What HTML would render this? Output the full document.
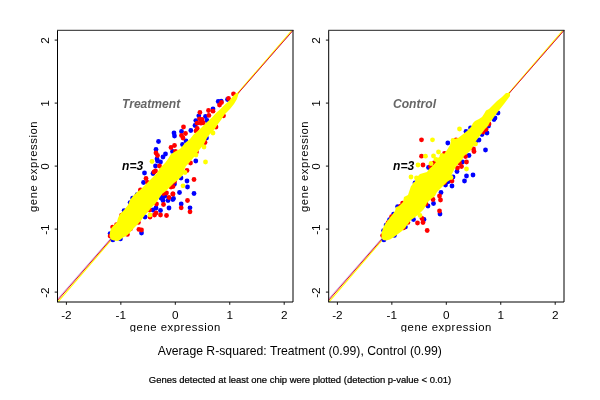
<!DOCTYPE html>
<html><head><meta charset="utf-8"><style>
html,body{margin:0;padding:0;background:#fff;width:600px;height:400px;overflow:hidden}
svg{display:block;will-change:transform}
text{font-family:"Liberation Sans",sans-serif}
.t{font-size:11.0px;fill:#000}
.l{font-size:11.3px;fill:#000;letter-spacing:0.55px}
.bi{font-size:12.1px;font-weight:bold;font-style:italic}
.m{font-size:12.2px;fill:#000;letter-spacing:0.01px}
.s{font-size:8.6px;fill:#000;letter-spacing:0px;stroke:#000;stroke-width:0.2px}
</style></head><body>
<svg width="600" height="400" viewBox="0 0 600 400">
<rect width="600" height="400" fill="#fff"/>
<line x1="57.50" y1="299.00" x2="292.00" y2="31.70" stroke="#a070e0" stroke-width="1.0" stroke-opacity="0.55"/><line x1="58.20" y1="301.60" x2="291.70" y2="30.50" stroke="#ff0" stroke-width="1.1" stroke-opacity="1"/><line x1="57.50" y1="300.40" x2="293.00" y2="30.40" stroke="#e0102a" stroke-width="1.0" stroke-opacity="1"/>
<line x1="328.50" y1="299.00" x2="563.00" y2="31.70" stroke="#a070e0" stroke-width="1.0" stroke-opacity="0.55"/><line x1="329.20" y1="301.60" x2="562.70" y2="30.50" stroke="#ff0" stroke-width="1.1" stroke-opacity="1"/><line x1="328.50" y1="300.40" x2="564.00" y2="30.40" stroke="#e0102a" stroke-width="1.0" stroke-opacity="1"/>
<g fill="#00f"><circle cx="218.2" cy="101.5" r="2.4"/><circle cx="221.2" cy="101.1" r="2.4"/><circle cx="227.5" cy="99.5" r="2.4"/><circle cx="213.0" cy="109.0" r="2.4"/><circle cx="205.5" cy="116.5" r="2.4"/><circle cx="198.8" cy="115.8" r="2.4"/><circle cx="195.8" cy="120.6" r="2.4"/><circle cx="195.0" cy="125.5" r="2.4"/><circle cx="181.5" cy="131.5" r="2.4"/><circle cx="190.8" cy="130.5" r="2.4"/><circle cx="201.5" cy="121.0" r="2.4"/><circle cx="207.0" cy="120.5" r="2.4"/><circle cx="186.0" cy="141.0" r="2.4"/><circle cx="182.5" cy="144.5" r="2.4"/><circle cx="206.5" cy="138.0" r="2.4"/><circle cx="174.0" cy="133.0" r="2.4"/><circle cx="174.5" cy="136.0" r="2.4"/><circle cx="158.5" cy="141.5" r="2.4"/><circle cx="156.0" cy="149.5" r="2.4"/><circle cx="172.5" cy="151.5" r="2.4"/><circle cx="165.5" cy="154.0" r="2.4"/><circle cx="163.0" cy="157.0" r="2.4"/><circle cx="157.0" cy="159.0" r="2.4"/><circle cx="157.5" cy="161.0" r="2.4"/><circle cx="160.5" cy="162.0" r="2.4"/><circle cx="155.5" cy="166.0" r="2.4"/><circle cx="144.5" cy="173.0" r="2.4"/><circle cx="153.0" cy="173.5" r="2.4"/><circle cx="143.5" cy="182.5" r="2.4"/><circle cx="179.5" cy="192.5" r="2.4"/><circle cx="173.5" cy="198.5" r="2.4"/><circle cx="163.0" cy="197.0" r="2.4"/><circle cx="161.0" cy="198.0" r="2.4"/><circle cx="165.0" cy="196.0" r="2.4"/><circle cx="174.5" cy="184.0" r="2.4"/><circle cx="195.8" cy="161.0" r="2.4"/><circle cx="187.0" cy="181.0" r="2.4"/><circle cx="187.5" cy="187.0" r="2.4"/><circle cx="181.0" cy="178.0" r="2.4"/><circle cx="194.0" cy="193.5" r="2.4"/><circle cx="172.8" cy="199.5" r="2.4"/><circle cx="181.2" cy="204.0" r="2.4"/><circle cx="190.0" cy="207.8" r="2.4"/><circle cx="163.0" cy="200.5" r="2.4"/><circle cx="168.0" cy="200.5" r="2.4"/><circle cx="169.0" cy="208.0" r="2.4"/><circle cx="160.5" cy="210.5" r="2.4"/><circle cx="156.0" cy="208.0" r="2.4"/><circle cx="153.0" cy="210.0" r="2.4"/><circle cx="145.0" cy="217.0" r="2.4"/><circle cx="141.5" cy="233.0" r="2.4"/><circle cx="124.1" cy="210.6" r="2.4"/><circle cx="130.1" cy="202.6" r="2.4"/><circle cx="110.1" cy="233.6" r="2.4"/><circle cx="132.6" cy="198.1" r="2.4"/><circle cx="137.1" cy="194.6" r="2.4"/><circle cx="120.4" cy="238.9" r="2.4"/><circle cx="112.9" cy="239.9" r="2.4"/></g>
<g fill="#f00"><circle cx="233.5" cy="94.0" r="2.4"/><circle cx="228.5" cy="98.5" r="2.4"/><circle cx="221.5" cy="102.5" r="2.4"/><circle cx="219.5" cy="105.0" r="2.4"/><circle cx="213.0" cy="111.2" r="2.4"/><circle cx="208.5" cy="110.5" r="2.4"/><circle cx="208.9" cy="115.4" r="2.4"/><circle cx="199.9" cy="112.4" r="2.4"/><circle cx="199.5" cy="118.8" r="2.4"/><circle cx="202.1" cy="119.5" r="2.4"/><circle cx="197.2" cy="123.2" r="2.4"/><circle cx="201.0" cy="123.2" r="2.4"/><circle cx="197.2" cy="128.5" r="2.4"/><circle cx="223.5" cy="115.8" r="2.4"/><circle cx="216.0" cy="127.0" r="2.4"/><circle cx="183.5" cy="127.0" r="2.4"/><circle cx="185.5" cy="133.5" r="2.4"/><circle cx="181.5" cy="135.5" r="2.4"/><circle cx="183.0" cy="138.0" r="2.4"/><circle cx="196.0" cy="131.0" r="2.4"/><circle cx="203.2" cy="122.9" r="2.4"/><circle cx="205.0" cy="142.5" r="2.4"/><circle cx="196.5" cy="152.0" r="2.4"/><circle cx="174.5" cy="145.5" r="2.4"/><circle cx="171.0" cy="147.5" r="2.4"/><circle cx="175.5" cy="151.5" r="2.4"/><circle cx="156.0" cy="153.0" r="2.4"/><circle cx="157.5" cy="155.5" r="2.4"/><circle cx="159.5" cy="166.0" r="2.4"/><circle cx="155.5" cy="171.0" r="2.4"/><circle cx="154.0" cy="172.0" r="2.4"/><circle cx="146.0" cy="178.5" r="2.4"/><circle cx="147.5" cy="182.5" r="2.4"/><circle cx="171.0" cy="187.0" r="2.4"/><circle cx="173.0" cy="186.5" r="2.4"/><circle cx="174.5" cy="181.5" r="2.4"/><circle cx="173.0" cy="194.0" r="2.4"/><circle cx="169.0" cy="197.5" r="2.4"/><circle cx="166.5" cy="193.0" r="2.4"/><circle cx="163.5" cy="193.5" r="2.4"/><circle cx="140.5" cy="190.0" r="2.4"/><circle cx="190.5" cy="163.0" r="2.4"/><circle cx="187.0" cy="170.5" r="2.4"/><circle cx="194.0" cy="179.5" r="2.4"/><circle cx="172.8" cy="194.0" r="2.4"/><circle cx="187.5" cy="200.5" r="2.4"/><circle cx="181.2" cy="207.8" r="2.4"/><circle cx="190.0" cy="211.8" r="2.4"/><circle cx="163.5" cy="204.5" r="2.4"/><circle cx="156.0" cy="213.0" r="2.4"/><circle cx="154.5" cy="215.0" r="2.4"/><circle cx="160.5" cy="215.0" r="2.4"/><circle cx="166.5" cy="215.5" r="2.4"/><circle cx="149.5" cy="210.0" r="2.4"/><circle cx="150.0" cy="217.0" r="2.4"/><circle cx="141.5" cy="230.0" r="2.4"/><circle cx="156.5" cy="204.0" r="2.4"/><circle cx="121.6" cy="215.1" r="2.4"/><circle cx="112.6" cy="227.1" r="2.4"/><circle cx="116.6" cy="224.6" r="2.4"/><circle cx="110.1" cy="236.1" r="2.4"/><circle cx="138.4" cy="222.4" r="2.4"/><circle cx="130.4" cy="228.9" r="2.4"/><circle cx="127.4" cy="234.4" r="2.4"/><circle cx="138.9" cy="229.4" r="2.4"/><circle cx="140.6" cy="190.6" r="2.4"/></g>
<polygon points="238.5,93.0 236.5,93.0 234.0,95.0 230.0,100.0 225.0,104.5 220.0,109.5 216.0,113.0 212.0,117.5 206.5,122.5 203.0,126.0 199.0,130.0 194.0,134.0 190.0,139.0 185.0,143.0 180.0,149.0 176.0,151.0 171.0,154.0 168.0,159.0 165.0,163.0 160.0,168.0 157.0,173.0 152.0,178.0 149.0,181.0 144.0,186.0 140.0,190.0 137.0,192.0 133.0,196.0 130.0,200.0 128.0,205.0 124.0,210.0 120.0,214.0 118.0,218.0 117.0,222.0 113.0,226.0 111.0,228.5 110.0,232.0 109.5,236.0 111.0,239.5 114.0,240.5 117.5,241.0 120.0,240.0 123.0,237.5 127.0,235.5 130.0,232.5 134.0,228.0 138.0,224.0 141.0,220.5 145.0,215.0 148.0,212.0 151.0,208.0 155.0,204.0 158.0,200.0 162.0,194.0 166.0,191.0 170.0,187.0 174.0,183.0 178.0,180.0 180.0,178.0 183.0,175.0 184.0,170.0 186.0,166.0 189.0,163.0 191.5,160.0 194.0,157.0 197.0,153.0 200.0,149.0 204.0,144.0 207.0,138.0 210.0,134.0 214.5,129.5 218.0,124.0 221.0,120.0 225.0,114.0 230.0,109.0 234.0,104.0 237.0,99.0 238.5,94.0" fill="#ff0"/>
<g fill="#ff0"><circle cx="213.0" cy="133.0" r="2.4"/><circle cx="196.0" cy="155.0" r="2.4"/><circle cx="204.0" cy="147.0" r="2.4"/><circle cx="152.0" cy="161.5" r="2.4"/><circle cx="205.5" cy="162.0" r="2.4"/><circle cx="185.0" cy="172.5" r="2.4"/><circle cx="183.0" cy="185.8" r="2.4"/><circle cx="150.0" cy="215.0" r="2.4"/></g>
<g fill="#00f"><circle cx="498.0" cy="113.0" r="2.4"/><circle cx="495.0" cy="118.0" r="2.4"/><circle cx="494.0" cy="119.5" r="2.4"/><circle cx="470.5" cy="128.0" r="2.4"/><circle cx="466.0" cy="131.5" r="2.4"/><circle cx="487.0" cy="133.0" r="2.4"/><circle cx="482.0" cy="134.5" r="2.4"/><circle cx="479.0" cy="140.0" r="2.4"/><circle cx="476.0" cy="141.0" r="2.4"/><circle cx="485.5" cy="150.0" r="2.4"/><circle cx="488.5" cy="126.0" r="2.4"/><circle cx="447.8" cy="143.0" r="2.4"/><circle cx="428.5" cy="167.5" r="2.4"/><circle cx="415.0" cy="183.0" r="2.4"/><circle cx="447.0" cy="182.0" r="2.4"/><circle cx="445.5" cy="185.0" r="2.4"/><circle cx="469.0" cy="155.5" r="2.4"/><circle cx="462.5" cy="162.0" r="2.4"/><circle cx="457.0" cy="171.5" r="2.4"/><circle cx="466.5" cy="176.0" r="2.4"/><circle cx="473.0" cy="175.0" r="2.4"/><circle cx="464.5" cy="181.0" r="2.4"/><circle cx="452.0" cy="186.0" r="2.4"/><circle cx="453.0" cy="177.0" r="2.4"/><circle cx="441.0" cy="192.5" r="2.4"/><circle cx="433.5" cy="203.5" r="2.4"/><circle cx="428.0" cy="206.0" r="2.4"/><circle cx="440.0" cy="214.0" r="2.4"/><circle cx="413.5" cy="219.5" r="2.4"/><circle cx="448.5" cy="181.5" r="2.4"/><circle cx="424.0" cy="219.5" r="2.4"/><circle cx="397.6" cy="206.6" r="2.4"/><circle cx="393.6" cy="214.1" r="2.4"/><circle cx="389.6" cy="219.6" r="2.4"/><circle cx="386.1" cy="225.1" r="2.4"/><circle cx="383.6" cy="230.6" r="2.4"/><circle cx="405.4" cy="226.9" r="2.4"/><circle cx="394.4" cy="235.4" r="2.4"/><circle cx="383.9" cy="239.9" r="2.4"/></g>
<g fill="#f00"><circle cx="486.0" cy="129.5" r="2.4"/><circle cx="483.0" cy="132.0" r="2.4"/><circle cx="456.0" cy="140.0" r="2.4"/><circle cx="473.5" cy="149.0" r="2.4"/><circle cx="489.0" cy="124.0" r="2.4"/><circle cx="421.5" cy="139.8" r="2.4"/><circle cx="421.5" cy="156.2" r="2.4"/><circle cx="444.5" cy="153.5" r="2.4"/><circle cx="423.0" cy="165.0" r="2.4"/><circle cx="434.0" cy="163.0" r="2.4"/><circle cx="430.5" cy="166.5" r="2.4"/><circle cx="444.5" cy="182.5" r="2.4"/><circle cx="474.0" cy="151.5" r="2.4"/><circle cx="465.5" cy="156.5" r="2.4"/><circle cx="466.5" cy="162.0" r="2.4"/><circle cx="459.5" cy="163.0" r="2.4"/><circle cx="461.5" cy="166.5" r="2.4"/><circle cx="457.5" cy="168.0" r="2.4"/><circle cx="452.0" cy="181.0" r="2.4"/><circle cx="439.5" cy="196.0" r="2.4"/><circle cx="440.5" cy="200.0" r="2.4"/><circle cx="433.0" cy="199.5" r="2.4"/><circle cx="426.0" cy="204.0" r="2.4"/><circle cx="439.5" cy="211.0" r="2.4"/><circle cx="422.0" cy="218.5" r="2.4"/><circle cx="423.0" cy="222.5" r="2.4"/><circle cx="417.5" cy="223.0" r="2.4"/><circle cx="427.2" cy="230.5" r="2.4"/><circle cx="400.6" cy="206.1" r="2.4"/><circle cx="402.6" cy="203.1" r="2.4"/><circle cx="391.6" cy="216.6" r="2.4"/><circle cx="388.1" cy="222.6" r="2.4"/><circle cx="382.6" cy="235.6" r="2.4"/><circle cx="407.9" cy="222.4" r="2.4"/><circle cx="403.4" cy="227.9" r="2.4"/></g>
<polygon points="510.0,93.0 506.0,93.0 502.0,97.0 497.0,101.0 493.0,105.0 489.0,109.0 486.0,110.5 484.0,114.0 482.0,117.0 479.0,119.0 475.0,121.0 473.0,123.0 471.0,127.0 467.0,131.0 462.0,135.0 458.0,138.0 454.0,139.0 451.0,141.0 450.0,145.0 447.0,150.0 444.0,154.0 440.0,156.0 438.0,158.0 436.0,162.0 432.0,166.5 429.0,169.0 427.0,172.0 420.0,174.0 417.0,177.0 414.0,183.0 411.0,186.0 409.0,192.0 408.0,195.0 404.0,197.0 403.0,202.0 399.0,206.0 396.0,207.0 395.0,211.0 392.0,215.0 388.0,220.0 385.0,224.0 383.0,228.0 381.5,233.0 381.5,238.0 383.0,240.0 386.0,240.5 390.0,239.5 394.0,237.0 398.0,234.0 402.0,231.0 405.0,228.0 408.0,224.0 411.0,220.0 414.0,218.0 419.0,214.0 424.0,209.0 427.0,203.0 431.0,199.0 435.0,196.0 437.0,192.0 440.0,189.0 444.0,185.0 447.0,182.0 450.0,180.0 451.0,176.0 453.0,172.0 455.0,168.0 458.0,164.0 462.0,160.0 464.0,156.0 469.0,152.0 471.0,150.0 474.0,145.0 476.0,141.0 479.0,137.0 482.0,133.0 485.0,129.0 488.0,126.0 490.0,122.0 492.0,120.0 494.0,117.0 497.0,113.0 500.0,109.0 504.0,104.0 507.0,100.0 510.0,96.0" fill="#ff0"/>
<g fill="#ff0"><circle cx="459.5" cy="129.0" r="2.4"/><circle cx="453.0" cy="140.5" r="2.4"/><circle cx="475.5" cy="144.0" r="2.4"/><circle cx="432.5" cy="139.8" r="2.4"/><circle cx="425.5" cy="156.2" r="2.4"/><circle cx="433.5" cy="156.0" r="2.4"/><circle cx="438.5" cy="152.0" r="2.4"/><circle cx="442.0" cy="155.5" r="2.4"/><circle cx="436.0" cy="159.5" r="2.4"/><circle cx="418.0" cy="165.0" r="2.4"/><circle cx="431.0" cy="163.5" r="2.4"/><circle cx="411.0" cy="177.0" r="2.4"/><circle cx="416.5" cy="178.0" r="2.4"/><circle cx="466.5" cy="169.0" r="2.4"/><circle cx="451.0" cy="177.5" r="2.4"/><circle cx="420.0" cy="215.5" r="2.4"/><circle cx="415.0" cy="184.5" r="2.4"/></g>
<path d="M57.5 302.0V30.5" fill="none" stroke="#000" stroke-width="1"/>
<path d="M57.0 30.3H293.5" fill="none" stroke="#222" stroke-width="1"/>
<path d="M293.0 30.3V302.0H57.0" fill="none" stroke="#000" stroke-width="1"/>
<line x1="66.40" y1="302.0" x2="66.40" y2="304.8" stroke="#111"/>
<text transform="translate(66.40,319.2) scale(1.07,1)" text-anchor="middle" class="t">-2</text>
<line x1="120.85" y1="302.0" x2="120.85" y2="304.8" stroke="#111"/>
<text transform="translate(120.85,319.2) scale(1.07,1)" text-anchor="middle" class="t">-1</text>
<line x1="175.30" y1="302.0" x2="175.30" y2="304.8" stroke="#111"/>
<text transform="translate(175.30,319.2) scale(1.07,1)" text-anchor="middle" class="t">0</text>
<line x1="229.75" y1="302.0" x2="229.75" y2="304.8" stroke="#111"/>
<text transform="translate(229.75,319.2) scale(1.07,1)" text-anchor="middle" class="t">1</text>
<line x1="284.20" y1="302.0" x2="284.20" y2="304.8" stroke="#111"/>
<text transform="translate(284.20,319.2) scale(1.07,1)" text-anchor="middle" class="t">2</text>
<line x1="57.5" y1="292.10" x2="54.7" y2="292.10" stroke="#111"/>
<text transform="translate(49.3,292.60) rotate(-90) scale(1.07,1)" text-anchor="middle" class="t">-2</text>
<line x1="57.5" y1="229.10" x2="54.7" y2="229.10" stroke="#111"/>
<text transform="translate(49.3,229.60) rotate(-90) scale(1.07,1)" text-anchor="middle" class="t">-1</text>
<line x1="57.5" y1="166.10" x2="54.7" y2="166.10" stroke="#111"/>
<text transform="translate(49.3,166.60) rotate(-90) scale(1.07,1)" text-anchor="middle" class="t">0</text>
<line x1="57.5" y1="103.10" x2="54.7" y2="103.10" stroke="#111"/>
<text transform="translate(49.3,103.60) rotate(-90) scale(1.07,1)" text-anchor="middle" class="t">1</text>
<line x1="57.5" y1="40.10" x2="54.7" y2="40.10" stroke="#111"/>
<text transform="translate(49.3,40.60) rotate(-90) scale(1.07,1)" text-anchor="middle" class="t">2</text>
<text x="175.3" y="331.3" text-anchor="middle" class="l">gene expression</text>
<text transform="translate(37.3,166.4) rotate(-90)" text-anchor="middle" class="l">gene expression</text>
<text x="122" y="108" class="bi" fill="#666">Treatment</text>
<text x="122" y="169.5" class="bi" fill="#000">n=3</text>
<path d="M328.7 302.0V30.5" fill="none" stroke="#000" stroke-width="1"/>
<path d="M328.2 30.3H564.5" fill="none" stroke="#222" stroke-width="1"/>
<path d="M564.0 30.3V302.0H328.2" fill="none" stroke="#000" stroke-width="1"/>
<line x1="337.40" y1="302.0" x2="337.40" y2="304.8" stroke="#111"/>
<text transform="translate(337.40,319.2) scale(1.07,1)" text-anchor="middle" class="t">-2</text>
<line x1="391.85" y1="302.0" x2="391.85" y2="304.8" stroke="#111"/>
<text transform="translate(391.85,319.2) scale(1.07,1)" text-anchor="middle" class="t">-1</text>
<line x1="446.30" y1="302.0" x2="446.30" y2="304.8" stroke="#111"/>
<text transform="translate(446.30,319.2) scale(1.07,1)" text-anchor="middle" class="t">0</text>
<line x1="500.75" y1="302.0" x2="500.75" y2="304.8" stroke="#111"/>
<text transform="translate(500.75,319.2) scale(1.07,1)" text-anchor="middle" class="t">1</text>
<line x1="555.20" y1="302.0" x2="555.20" y2="304.8" stroke="#111"/>
<text transform="translate(555.20,319.2) scale(1.07,1)" text-anchor="middle" class="t">2</text>
<line x1="328.7" y1="292.10" x2="325.9" y2="292.10" stroke="#111"/>
<text transform="translate(320.3,292.60) rotate(-90) scale(1.07,1)" text-anchor="middle" class="t">-2</text>
<line x1="328.7" y1="229.10" x2="325.9" y2="229.10" stroke="#111"/>
<text transform="translate(320.3,229.60) rotate(-90) scale(1.07,1)" text-anchor="middle" class="t">-1</text>
<line x1="328.7" y1="166.10" x2="325.9" y2="166.10" stroke="#111"/>
<text transform="translate(320.3,166.60) rotate(-90) scale(1.07,1)" text-anchor="middle" class="t">0</text>
<line x1="328.7" y1="103.10" x2="325.9" y2="103.10" stroke="#111"/>
<text transform="translate(320.3,103.60) rotate(-90) scale(1.07,1)" text-anchor="middle" class="t">1</text>
<line x1="328.7" y1="40.10" x2="325.9" y2="40.10" stroke="#111"/>
<text transform="translate(320.3,40.60) rotate(-90) scale(1.07,1)" text-anchor="middle" class="t">2</text>
<text x="446.3" y="331.3" text-anchor="middle" class="l">gene expression</text>
<text transform="translate(308.3,166.4) rotate(-90)" text-anchor="middle" class="l">gene expression</text>
<text x="393" y="108" class="bi" fill="#666">Control</text>
<text x="393" y="169.5" class="bi" fill="#000">n=3</text>
<rect x="0" y="332" width="600" height="68" fill="#fff"/>
<text x="299.8" y="354.5" text-anchor="middle" class="m">Average R-squared: Treatment (0.99), Control (0.99)</text>
<text transform="translate(300,383.0) scale(1.1,1)" text-anchor="middle" class="s">Genes detected at least one chip were plotted (detection p-value &lt; 0.01)</text>
</svg></body></html>
